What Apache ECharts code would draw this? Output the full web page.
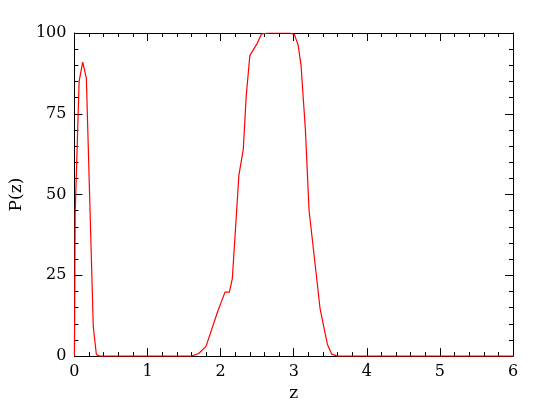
<!DOCTYPE html>
<html><head><meta charset="utf-8">
<script src="https://cdn.jsdelivr.net/npm/echarts@6/dist/echarts.min.js"></script>
<style>html,body{margin:0;padding:0;background:#fff}#c{width:545px;height:407px}</style>
</head><body><div id="c"></div>
<script>
const zValues = [0.0,0.01,0.064,0.113,0.163,0.258,0.30,0.34,1.0,1.60,1.70,1.80,1.96,2.06,2.12,2.16,2.25,2.31,2.35,2.40,2.50,2.56,2.66,2.95,3.01,3.06,3.10,3.16,3.21,3.25,3.36,3.46,3.52,3.60,6.0];
const pValues = [0,44,85,91,86,9,0.5,0,0,0,0.8,3,13.8,19.8,19.8,24,56,64,80.5,93,96.8,99.7,100,100,99.5,96.3,90,70,45,37,14.8,3.7,0.6,0,0];
const xTicks = [0,1,2,3,4,5,6];
const yTicks = [0,25,50,75,100];
const font = 'DejaVu Serif';
const data = zValues.map((z,i)=>[z,pValues[i]]);
function ax(lab, extra){
  return Object.assign({type:'value',
    axisLine:{show:true,onZero:false,lineStyle:{color:'#000',width:1}},
    axisTick:{show:true,inside:true,length:8,lineStyle:{color:'#000'}},
    minorTick:{show:true,splitNumber:5,length:4,lineStyle:{color:'#000'}},
    splitLine:{show:false},
    axisLabel:{show:lab,color:'#000',fontFamily:font,fontSize:16,margin:8},
  },extra);
}
const chart = echarts.init(document.getElementById('c'));
chart.setOption({
  animation:false,
  grid:{left:71,right:32,top:33,bottom:47},
  xAxis:[
    ax(true,{min:xTicks[0],max:xTicks[xTicks.length-1],interval:1,position:'bottom',
      name:'z',nameLocation:'middle',nameGap:27,nameTextStyle:{color:'#000',fontFamily:font,fontSize:17}}),
    ax(false,{min:0,max:6,interval:1,position:'top'})
  ],
  yAxis:[
    ax(true,{min:yTicks[0],max:yTicks[yTicks.length-1],interval:25,position:'left',
      name:'P(z)',nameLocation:'middle',nameGap:44,nameTextStyle:{color:'#000',fontFamily:font,fontSize:17}}),
    ax(false,{min:0,max:100,interval:25,position:'right'})
  ],
  series:[{type:'line',data:data,showSymbol:false,lineStyle:{color:'#ff0000',width:1.2}}]
});
</script></body></html>
